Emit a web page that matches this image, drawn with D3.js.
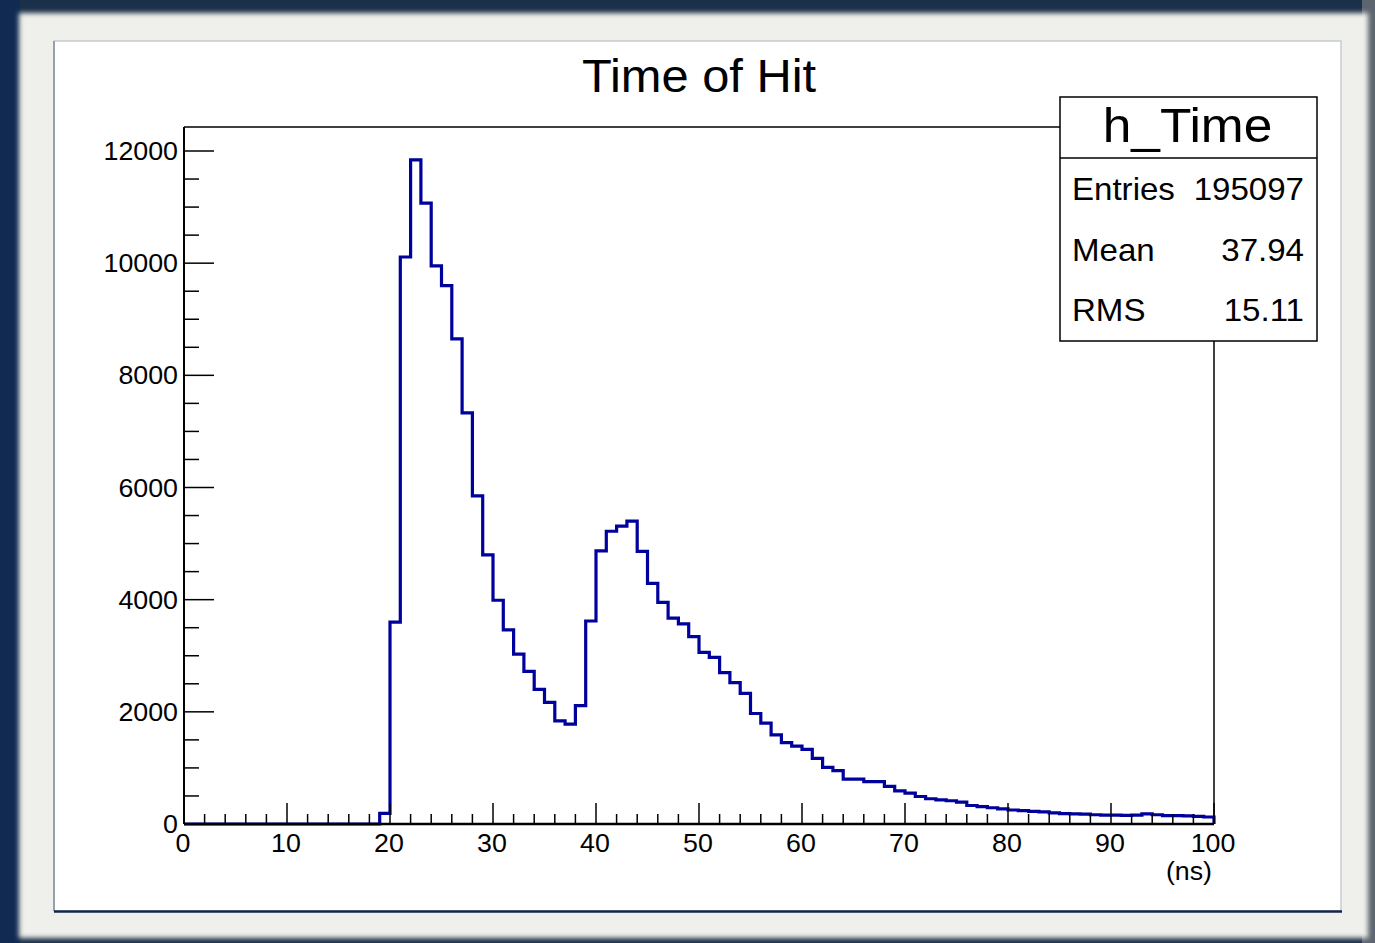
<!DOCTYPE html>
<html>
<head>
<meta charset="utf-8">
<script src="https://cdn.jsdelivr.net/npm/d3@7"></script>
<style>
  html, body { margin: 0; padding: 0; background: #1b3149; }
  svg { display: block; }
  text { font-family: "Liberation Sans", Arial, Helvetica, sans-serif; fill: #000; }
</style>
</head>
<body>
<svg id="chart" width="1375" height="943"></svg>
<script>
// Histogram h_Time: hit times in 1 ns bins from 0 to 100 ns
const binEdges = d3.range(0, 101, 1);
const binCounts = [
  0, 0, 0, 0, 0, 0, 0, 0, 0, 0,
  0, 0, 0, 0, 0, 0, 0, 0, 0, 190,
  3600, 10110, 11840, 11070, 9950, 9600, 8650, 7330, 5850, 4800,
  3990, 3460, 3030, 2720, 2400, 2170, 1840, 1780, 2110, 3620,
  4870, 5220, 5310, 5400, 4860, 4290, 3950, 3670, 3570, 3340,
  3060, 2970, 2700, 2520, 2330, 1970, 1800, 1590, 1450, 1390,
  1330, 1170, 1010, 950, 800, 800, 755, 755, 670, 590,
  550, 490, 450, 430, 415, 390, 330, 310, 290, 270,
  250, 240, 225, 215, 200, 185, 180, 175, 165, 160,
  160, 155, 160, 180, 165, 150, 150, 145, 135, 125
];
const xTickValues = [0, 10, 20, 30, 40, 50, 60, 70, 80, 90, 100];
const yTickValues = [0, 2000, 4000, 6000, 8000, 10000, 12000];
const statLabels = ["Entries", "Mean", "RMS"];
const statValues = ["195097", "37.94", "15.11"];
const histName = "h_Time";
const titleText = "Time of Hit";
const xUnitText = "(ns)";

const svg = d3.select("#chart");
const W = 1375, H = 943;
const STRETCH = 1.05; // glyphs are drawn slightly wide, like the canvas font

// place a text at (px, py) with a mild horizontal stretch
function label(parent, px, py, str, size, anchor) {
  return parent.append("text")
    .attr("transform", `translate(${px},${py}) scale(${STRETCH},1)`)
    .attr("text-anchor", anchor || "start")
    .attr("font-size", size)
    .text(str);
}

// ---- window backdrop ----
const defs = svg.append("defs");
defs.append("filter").attr("id", "soft")
  .attr("x", "-5%").attr("y", "-5%").attr("width", "110%").attr("height", "110%")
  .append("feGaussianBlur").attr("stdDeviation", 2.5);

svg.append("rect").attr("width", W).attr("height", H).attr("fill", "#1b3149");
svg.append("rect").attr("x", 0).attr("y", 0).attr("width", 20).attr("height", H).attr("fill", "#102a52");
svg.append("rect").attr("x", 1362).attr("y", 0).attr("width", 13).attr("height", H).attr("fill", "#5d6670");
svg.append("rect").attr("x", 19).attr("y", 13).attr("width", 1349).attr("height", 925)
  .attr("fill", "#efefeb").attr("filter", "url(#soft)");

// canvas pad
svg.append("rect").attr("x", 54).attr("y", 41).attr("width", 1287).attr("height", 870)
  .attr("fill", "#ffffff").attr("stroke", "#c4ccd4").attr("stroke-width", 1.5);
svg.append("line").attr("x1", 54).attr("x2", 54).attr("y1", 41).attr("y2", 911)
  .attr("stroke", "#7f909f").attr("stroke-width", 1.5);
svg.append("line").attr("x1", 54).attr("x2", 1342).attr("y1", 911.5).attr("y2", 911.5)
  .attr("stroke", "#15264a").attr("stroke-width", 2.5);

// ---- scales ----
const plot = { left: 184, right: 1214, top: 127, bottom: 824 };
const x = d3.scaleLinear().domain([0, 100]).range([plot.left, plot.right]);
const yMax = 12000 * (plot.bottom - plot.top) / (plot.bottom - 151);
const y = d3.scaleLinear().domain([0, yMax]).range([plot.bottom, plot.top]);

// ---- frame ----
svg.append("line").attr("x1", plot.left).attr("x2", plot.right)
  .attr("y1", plot.top).attr("y2", plot.top).attr("stroke", "#000").attr("stroke-width", 1.5);
svg.append("line").attr("x1", plot.right).attr("x2", plot.right)
  .attr("y1", plot.top).attr("y2", plot.bottom).attr("stroke", "#000").attr("stroke-width", 1.5);

// ---- histogram outline ----
const stepPts = [[x(binEdges[0]), y(0)]];
binCounts.forEach((c, i) => {
  stepPts.push([x(binEdges[i]), y(c)]);
  stepPts.push([x(binEdges[i + 1]), y(c)]);
});
stepPts.push([x(binEdges[binEdges.length - 1]), y(0)]);
svg.append("path")
  .attr("d", d3.line()(stepPts))
  .attr("fill", "none")
  .attr("stroke", "#00009c")
  .attr("stroke-width", 3.2)
  .attr("stroke-linejoin", "miter");

// ---- y axis ----
const yAxis = svg.append("g");
d3.range(0, yMax, 500).forEach(v => {
  const major = v % 2000 === 0;
  yAxis.append("line")
    .attr("x1", plot.left).attr("x2", plot.left + (major ? 30 : 15))
    .attr("y1", y(v)).attr("y2", y(v))
    .attr("stroke", "#000").attr("stroke-width", 1.5);
});
yAxis.append("line").attr("x1", plot.left).attr("x2", plot.left)
  .attr("y1", plot.top).attr("y2", plot.bottom).attr("stroke", "#000").attr("stroke-width", 2);
yTickValues.forEach(v => label(yAxis, plot.left - 6, y(v) + 9, v, 25.5, "end"));

// ---- x axis ----
const xAxis = svg.append("g");
d3.range(0, 101, 2).forEach(v => {
  const major = v % 10 === 0;
  xAxis.append("line")
    .attr("x1", x(v)).attr("x2", x(v))
    .attr("y1", plot.bottom).attr("y2", plot.bottom - (major ? 21 : 10))
    .attr("stroke", "#000").attr("stroke-width", 1.5);
});
xAxis.append("line").attr("x1", plot.left).attr("x2", plot.right)
  .attr("y1", plot.bottom).attr("y2", plot.bottom).attr("stroke", "#000").attr("stroke-width", 2.5);
xTickValues.forEach(v => label(xAxis, x(v) - 1, plot.bottom + 28, v, 25.5, "middle"));
label(xAxis, plot.right - 2, 880, xUnitText, 25.5, "end");

// ---- title ----
label(svg, 699, 92, titleText, 46.5, "middle");

// ---- statistics box ----
const box = { x: 1060, y: 97, w: 257, h: 244, head: 61 };
const stats = svg.append("g");
stats.append("rect").attr("x", box.x).attr("y", box.y).attr("width", box.w).attr("height", box.h)
  .attr("fill", "#fff").attr("stroke", "#000").attr("stroke-width", 1.5);
stats.append("line").attr("x1", box.x).attr("x2", box.x + box.w)
  .attr("y1", box.y + box.head).attr("y2", box.y + box.head)
  .attr("stroke", "#000").attr("stroke-width", 1.5);
label(stats, box.x + box.w / 2 - 1, 142, histName, 49, "middle");
const rowBase = [200, 261, 321];
statLabels.forEach((lab, i) => {
  label(stats, 1072, rowBase[i], lab, 31.5, "start");
  label(stats, 1304, rowBase[i], statValues[i], 31.5, "end");
});
</script>
</body>
</html>
